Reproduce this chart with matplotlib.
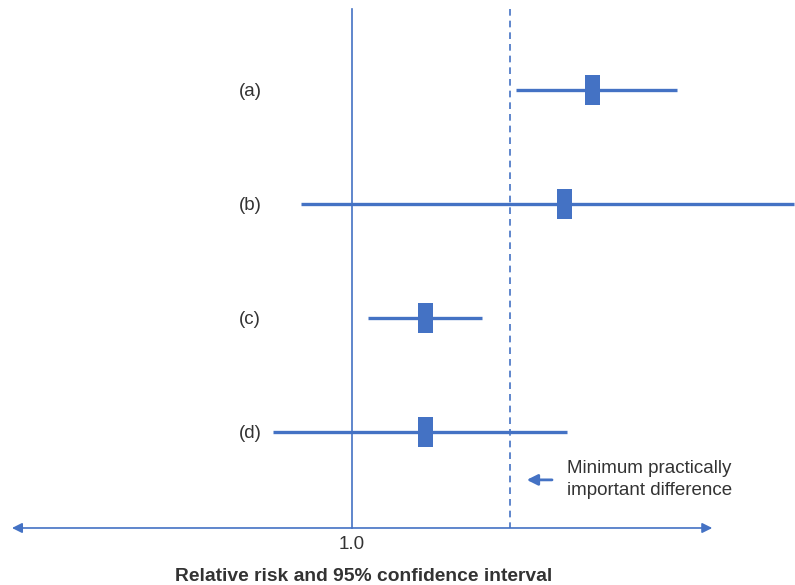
import numpy as np
import matplotlib.pyplot as plt
from matplotlib.path import Path

plt.rcParams['font.family'] = ['Liberation Sans', 'DejaVu Sans']

LABELS = ['(a)', '(b)', '(c)', '(d)']
ESTIMATE = [1.76, 1.67, 1.23, 1.23]
LOWER = [1.52, 0.84, 1.05, 0.75]
UPPER = [2.03, 2.40, 1.41, 1.68]
NULL_VALUE = 1.0
MIN_DIFF = 1.5

BLUE = '#4472C4'
TEXT = '#333333'
FS = 13.5

fig = plt.figure(figsize=(7.95, 5.85), dpi=100)
ax = fig.add_axes([0, 0, 1, 1])
ax.set_xlim(-0.1139, 2.4019)
ax.set_ylim(4.342, -0.789)
ax.axis('off')

y = np.arange(len(LABELS))
axis_y = 3.842

# reference lines
ax.plot([NULL_VALUE, NULL_VALUE], [-0.71, axis_y], color=BLUE, lw=1.2)
ax.plot([MIN_DIFF, MIN_DIFF], [-0.71, axis_y], color=BLUE, lw=1.2, ls=(0, (4, 3)))

# confidence intervals
for yi, lo, hi in zip(y, LOWER, UPPER):
    ax.plot([lo, hi], [yi, yi], color=BLUE, lw=2.4, solid_capstyle='butt')

# point estimates as tall rectangles
rect = Path([(-0.5, -1), (0.5, -1), (0.5, 1), (-0.5, 1), (-0.5, -1)])
ax.plot(ESTIMATE, y, ls='none', marker=rect, markersize=21.6,
        color=BLUE, markeredgewidth=0)

for yi, lab in zip(y, LABELS):
    ax.text(0.677, yi + 0.015, lab, ha='center', va='center', fontsize=FS, color=TEXT)

# x axis with arrows on both ends
ax.annotate('', xy=(-0.076, axis_y), xytext=(2.14, axis_y),
            arrowprops=dict(arrowstyle='<|-|>', color=BLUE, lw=1.2,
                            mutation_scale=15, shrinkA=0, shrinkB=0))
ax.text(NULL_VALUE, 3.99, '1.0', ha='center', va='center', fontsize=FS, color=TEXT)
ax.text(1.038, 4.265, 'Relative risk and 95% confidence interval', ha='center',
        va='center', fontsize=13.9, fontweight='bold', color=TEXT)

# annotation for minimum difference
ann_y = 3.42
ax.annotate('', xy=(1.553, ann_y), xytext=(1.633, ann_y),
            arrowprops=dict(arrowstyle='-|>', color=BLUE, lw=2,
                            mutation_scale=16, shrinkA=0, shrinkB=0))
ax.text(1.68, ann_y, 'Minimum practically\nimportant difference', ha='left',
        va='center', fontsize=FS, color=TEXT, linespacing=1.38)

fig.savefig('out.png', dpi=100)
